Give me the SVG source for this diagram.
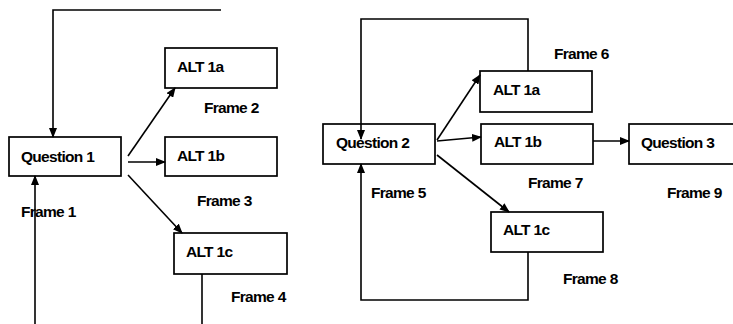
<svg xmlns="http://www.w3.org/2000/svg" width="733" height="324" viewBox="0 0 733 324">
<style>
.box{fill:#fff;stroke:#000;stroke-width:1.7}
.t{font-family:"Liberation Sans",Arial,sans-serif;font-weight:bold;font-size:15.5px;fill:#000;letter-spacing:-0.7px}
.c{fill:none;stroke:#000;stroke-width:1.6}
</style>
<defs>
<marker id="ah" markerUnits="userSpaceOnUse" markerWidth="10" markerHeight="8" refX="9" refY="4" orient="auto">
<path d="M0,0 L10,4 L0,8 z" fill="#000"/>
</marker>
</defs>
<rect width="733" height="324" fill="#fff"/>
<g id="q1"><rect class="box" x="9" y="137" width="112" height="39"/><text class="t" x="21" y="162">Question 1</text></g>
<g id="a1a"><rect class="box" x="165" y="48" width="112" height="40"/><text class="t" x="177" y="72">ALT 1a</text></g>
<g id="a1b"><rect class="box" x="165" y="137" width="112" height="39"/><text class="t" x="177" y="161">ALT 1b</text></g>
<g id="a1c"><rect class="box" x="174" y="233" width="113" height="41"/><text class="t" x="186" y="257">ALT 1c</text></g>
<g id="q2"><rect class="box" x="323" y="124" width="112" height="40"/><text class="t" x="336" y="148">Question 2</text></g>
<g id="b1a"><rect class="box" x="480" y="71" width="112" height="41"/><text class="t" x="493" y="95">ALT 1a</text></g>
<g id="b1b"><rect class="box" x="481" y="124" width="112" height="40"/><text class="t" x="494" y="147">ALT 1b</text></g>
<g id="b1c"><rect class="box" x="491" y="212" width="112" height="40"/><text class="t" x="503" y="235">ALT 1c</text></g>
<g id="q3"><rect class="box" x="629" y="124" width="120" height="40"/><text class="t" x="641" y="148">Question 3</text></g>
<g id="labels">
<text class="t" x="21" y="217">Frame 1</text>
<text class="t" x="204" y="113">Frame 2</text>
<text class="t" x="197" y="206">Frame 3</text>
<text class="t" x="231" y="302">Frame 4</text>
<text class="t" x="371" y="198">Frame 5</text>
<text class="t" x="554" y="59">Frame 6</text>
<text class="t" x="528" y="188">Frame 7</text>
<text class="t" x="563" y="284">Frame 8</text>
<text class="t" x="667" y="198">Frame 9</text>
</g>
<g id="connectors">
<polyline class="c" points="221,10 53,10 53,137" marker-end="url(#ah)"/>
<line class="c" x1="35" y1="324" x2="35" y2="176" marker-end="url(#ah)"/>
<line class="c" x1="128" y1="156" x2="175" y2="88" marker-end="url(#ah)"/>
<line class="c" x1="128" y1="162" x2="165" y2="162" marker-end="url(#ah)"/>
<line class="c" x1="128" y1="175" x2="182" y2="233" marker-end="url(#ah)"/>
<line class="c" x1="202" y1="274" x2="202" y2="324"/>
<polyline class="c" points="528,71 528,19 361,19 361,139" marker-end="url(#ah)"/>
<polyline class="c" points="528,252 528,300 361,300 361,164" marker-end="url(#ah)"/>
<line class="c" x1="437" y1="140" x2="480" y2="75" marker-end="url(#ah)"/>
<line class="c" x1="437" y1="141" x2="481" y2="137" marker-end="url(#ah)"/>
<line class="c" x1="437" y1="155" x2="509" y2="212" marker-end="url(#ah)"/>
<line class="c" x1="593" y1="141" x2="629" y2="141" marker-end="url(#ah)"/>
</g>
</svg>
